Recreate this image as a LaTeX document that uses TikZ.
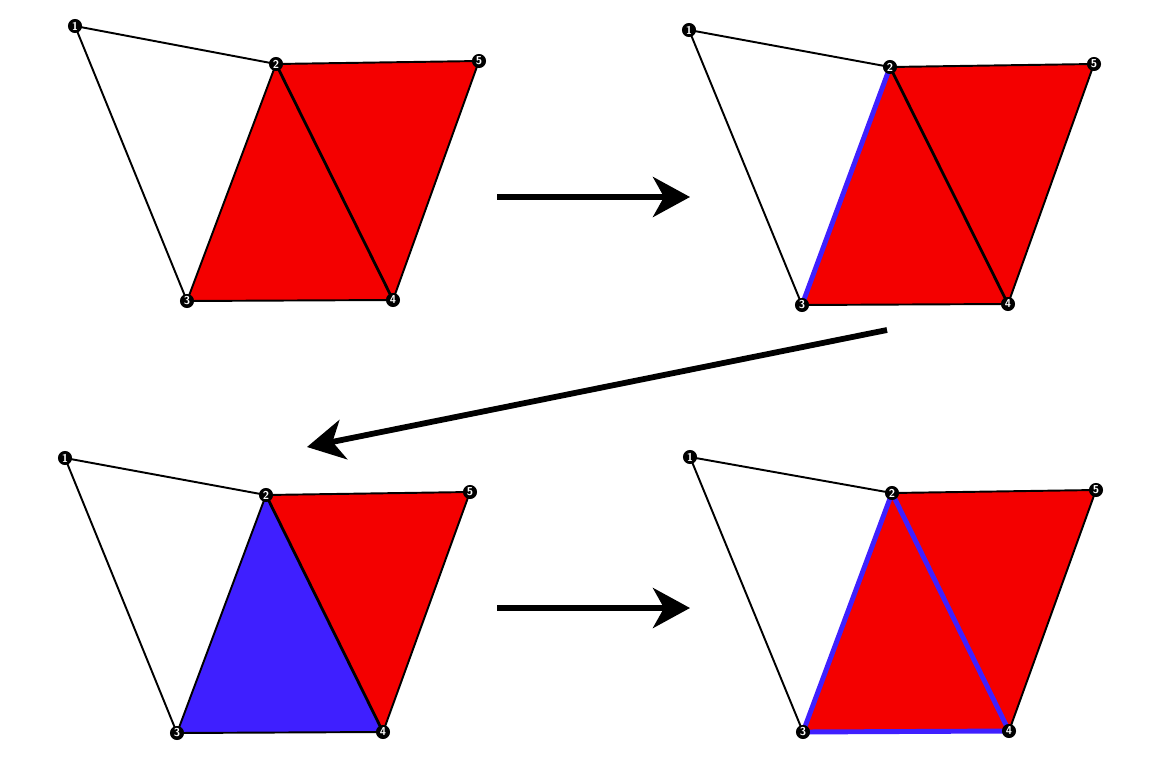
\documentclass[tikz,border=0pt]{standalone}
\usepackage{tikz}
\usetikzlibrary{arrows.meta,backgrounds}
\definecolor{trired}{HTML}{F40000}
\definecolor{edgeblue}{HTML}{3F1FFF}

\begin{document}
\begin{tikzpicture}[
  x=0.02cm, y=-0.02cm,
  vert/.style={
    circle, fill=black, draw=black, line width=0.6pt,
    inner sep=0pt, minimum size=0.26cm, text=white,
    font=\sffamily\bfseries\fontsize{6.5}{6.5}\selectfont,
  },
  edge/.style={draw=black, line width=1.1pt, line join=round},
  diag/.style={draw=black, line width=1.6pt},
  redface/.style={fill=trired},
  blueface/.style={fill=edgeblue},
  hot/.style={draw=edgeblue, line width=2.8pt, line cap=round},
  movearrow/.style={-{Stealth[length=0.74cm, width=0.8cm, inset=0.22cm]},
                    line width=3.3pt},
]
\useasboundingbox (0,0) rectangle (1156,767);

% panel A: top left
\node[vert] (a1) at (75,26)   {1};
\node[vert] (a2) at (276,64)  {2};
\node[vert] (a3) at (187,301) {3};
\node[vert] (a4) at (393,300) {4};
\node[vert] (a5) at (479,61)  {5};

% panel B: top right
\node[vert] (b1) at (689,30)   {1};
\node[vert] (b2) at (890,67)   {2};
\node[vert] (b3) at (802,305)  {3};
\node[vert] (b4) at (1008,304) {4};
\node[vert] (b5) at (1094,64)  {5};

% panel C: bottom left
\node[vert] (c1) at (65,458)  {1};
\node[vert] (c2) at (266,495) {2};
\node[vert] (c3) at (177,733) {3};
\node[vert] (c4) at (383,732) {4};
\node[vert] (c5) at (470,492) {5};

% panel D: bottom right
\node[vert] (d1) at (690,457)  {1};
\node[vert] (d2) at (892,493)  {2};
\node[vert] (d3) at (803,732)  {3};
\node[vert] (d4) at (1009,731) {4};
\node[vert] (d5) at (1096,490) {5};

\begin{scope}[on background layer]
  % faces
  \fill[redface] (a2.center) -- (a3.center) -- (a4.center) -- (a5.center) -- cycle;
  \fill[redface] (b2.center) -- (b3.center) -- (b4.center) -- (b5.center) -- cycle;
  \fill[blueface] (c2.center) -- (c3.center) -- (c4.center) -- cycle;
  \fill[redface] (c2.center) -- (c4.center) -- (c5.center) -- cycle;
  \fill[redface] (d2.center) -- (d3.center) -- (d4.center) -- (d5.center) -- cycle;

  % edges
  \draw[edge] (a3.center) -- (a1.center) -- (a2.center) -- (a5.center) -- (a4.center) -- (a3.center) -- (a2.center);
  \draw[diag] (a2.center) -- (a4.center);

  \draw[edge] (b3.center) -- (b1.center) -- (b2.center) -- (b5.center) -- (b4.center) -- (b3.center);
  \draw[diag] (b2.center) -- (b4.center);
  \draw[hot] (b2.center) -- (b3.center);

  \draw[edge] (c3.center) -- (c1.center) -- (c2.center) -- (c5.center) -- (c4.center) -- (c3.center) -- (c2.center);
  \draw[diag] (c2.center) -- (c4.center);

  \draw[edge] (d3.center) -- (d1.center) -- (d2.center) -- (d5.center) -- (d4.center);
  \draw[hot] (d2.center) -- (d3.center) -- (d4.center) -- cycle;
\end{scope}

% moves between panels
\coordinate (m1s) at (497,197);
\coordinate (m1e) at (690,197);
\coordinate (m2s) at (887,330);
\coordinate (m2e) at (307,447);
\coordinate (m3s) at (497,608);
\coordinate (m3e) at (690,608);

\draw[movearrow] (m1s) -- (m1e);
\draw[movearrow] (m2s) -- (m2e);
\draw[movearrow] (m3s) -- (m3e);
\end{tikzpicture}
\end{document}
